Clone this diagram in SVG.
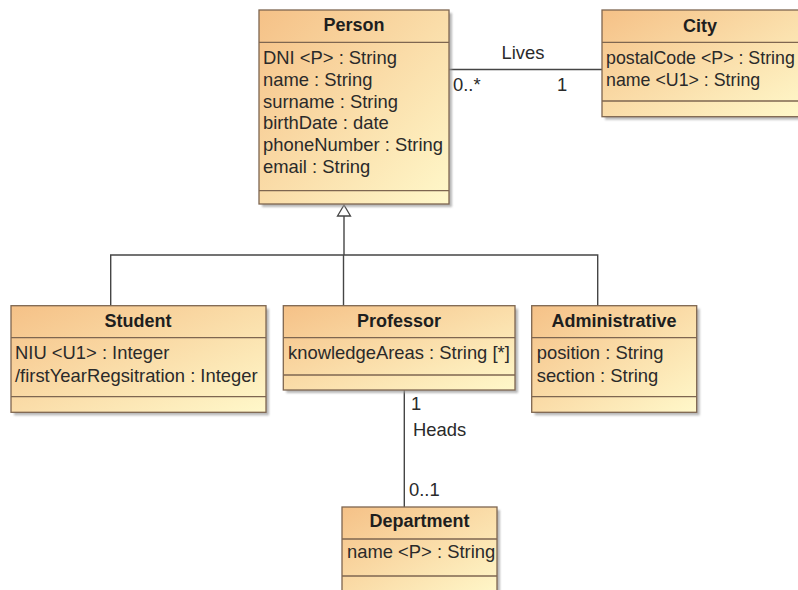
<svg xmlns="http://www.w3.org/2000/svg" width="798" height="590" viewBox="0 0 798 590">
<defs>
<linearGradient id="fillGrad" x1="0" y1="0" x2="1" y2="1">
<stop offset="0" stop-color="#F5C187"/>
<stop offset="1" stop-color="#FFF8CA"/>
</linearGradient>
<filter id="shadow" x="-10%" y="-10%" width="130%" height="130%">
<feGaussianBlur stdDeviation="1.2"/>
</filter>
</defs>
<style>
.box{fill:url(#fillGrad);stroke:#7E6650;stroke-width:1.3}
.shd{fill:#9A9A9A;opacity:0.7;filter:url(#shadow)}
.div{stroke:#7E6650;stroke-width:1.3}
.title{font-family:"Liberation Sans",Arial,sans-serif;font-size:18px;font-weight:bold;fill:#1E1E1E;text-anchor:middle}
.attr{font-family:"Liberation Sans",Arial,sans-serif;font-size:18.4px;fill:#2A2A2A}
.attrs{font-family:"Liberation Sans",Arial,sans-serif;font-size:17.8px;fill:#2A2A2A}
.lbl{font-family:"Liberation Sans",Arial,sans-serif;font-size:18.4px;fill:#2A2A2A}
.conn{stroke:#454545;stroke-width:1.4;fill:none}
</style>
<rect width="798" height="590" fill="#FFFFFF"/>

<g id="connectors">
<line class="conn" x1="449" y1="69.5" x2="602" y2="69.5"/>
<polyline class="conn" points="344,216 344,255"/>
<polyline class="conn" points="110.7,306 110.7,255 597.7,255 597.7,306"/>
<line class="conn" x1="343.5" y1="255" x2="343.5" y2="306"/>
<polygon points="344,205 337.5,216 350.5,216" fill="#FFFFFF" stroke="#454545" stroke-width="1.3"/>
<line class="conn" x1="404.3" y1="390" x2="404.3" y2="507"/>
<text class="lbl" x="523" y="58.5" text-anchor="middle">Lives</text>
<text class="lbl" x="453" y="91">0..*</text>
<text class="lbl" x="557" y="91">1</text>
<text class="lbl" x="411" y="410">1</text>
<text class="lbl" x="413" y="436">Heads</text>
<text class="lbl" x="409" y="496">0..1</text>
</g>

<g id="person">
<rect class="shd" x="262" y="13" width="190" height="194"/>
<rect class="box" x="259" y="10" width="190" height="194"/>
<line class="div" x1="259" y1="42.3" x2="449" y2="42.3"/>
<line class="div" x1="259" y1="190.7" x2="449" y2="190.7"/>
<text class="title" x="354" y="31">Person</text>
<text class="attr" x="263" y="64.3">DNI &lt;P&gt; : String</text>
<text class="attr" x="263" y="86">name : String</text>
<text class="attr" x="263" y="107.7">surname : String</text>
<text class="attr" x="263" y="129.4">birthDate : date</text>
<text class="attr" x="263" y="151.1">phoneNumber : String</text>
<text class="attr" x="263" y="172.8">email : String</text>
</g>

<g id="city">
<rect class="shd" x="605" y="13" width="197" height="106.7"/>
<rect class="box" x="602" y="10" width="197" height="106.7"/>
<line class="div" x1="602" y1="42.3" x2="799" y2="42.3"/>
<line class="div" x1="602" y1="101" x2="799" y2="101"/>
<text class="title" x="700" y="32.3">City</text>
<text class="attrs" x="606" y="63.5">postalCode &lt;P&gt; : String</text>
<text class="attrs" x="606" y="86">name &lt;U1&gt; : String</text>
</g>

<g id="student">
<rect class="shd" x="14" y="308.7" width="255" height="106.6"/>
<rect class="box" x="11" y="305.7" width="255" height="106.6"/>
<line class="div" x1="11" y1="337.7" x2="266" y2="337.7"/>
<line class="div" x1="11" y1="396.7" x2="266" y2="396.7"/>
<text class="title" x="138" y="327.3">Student</text>
<text class="attr" x="15" y="359.3">NIU &lt;U1&gt; : Integer</text>
<text class="attr" x="15" y="381.7">/firstYearRegsitration : Integer</text>
</g>

<g id="professor">
<rect class="shd" x="286.3" y="308.7" width="231.7" height="84.3"/>
<rect class="box" x="283.3" y="305.7" width="231.7" height="84.3"/>
<line class="div" x1="283.3" y1="337.7" x2="515" y2="337.7"/>
<line class="div" x1="283.3" y1="375" x2="515" y2="375"/>
<text class="title" x="399" y="327.3">Professor</text>
<text class="attr" x="288" y="359.3">knowledgeAreas : String [*]</text>
</g>

<g id="administrative">
<rect class="shd" x="534.7" y="308.7" width="165" height="106.6"/>
<rect class="box" x="531.7" y="305.7" width="165" height="106.6"/>
<line class="div" x1="531.7" y1="337.7" x2="696.7" y2="337.7"/>
<line class="div" x1="531.7" y1="396.7" x2="696.7" y2="396.7"/>
<text class="title" x="614" y="327.3">Administrative</text>
<text class="attr" x="536.7" y="359.3">position : String</text>
<text class="attr" x="536.7" y="381.7">section : String</text>
</g>

<g id="department">
<rect class="shd" x="345" y="510" width="155" height="90"/>
<rect class="box" x="342" y="507" width="155" height="90"/>
<line class="div" x1="342" y1="539" x2="497" y2="539"/>
<line class="div" x1="342" y1="576" x2="497" y2="576"/>
<text class="title" x="419.5" y="527">Department</text>
<text class="attr" x="347" y="558">name &lt;P&gt; : String</text>
</g>
</svg>
